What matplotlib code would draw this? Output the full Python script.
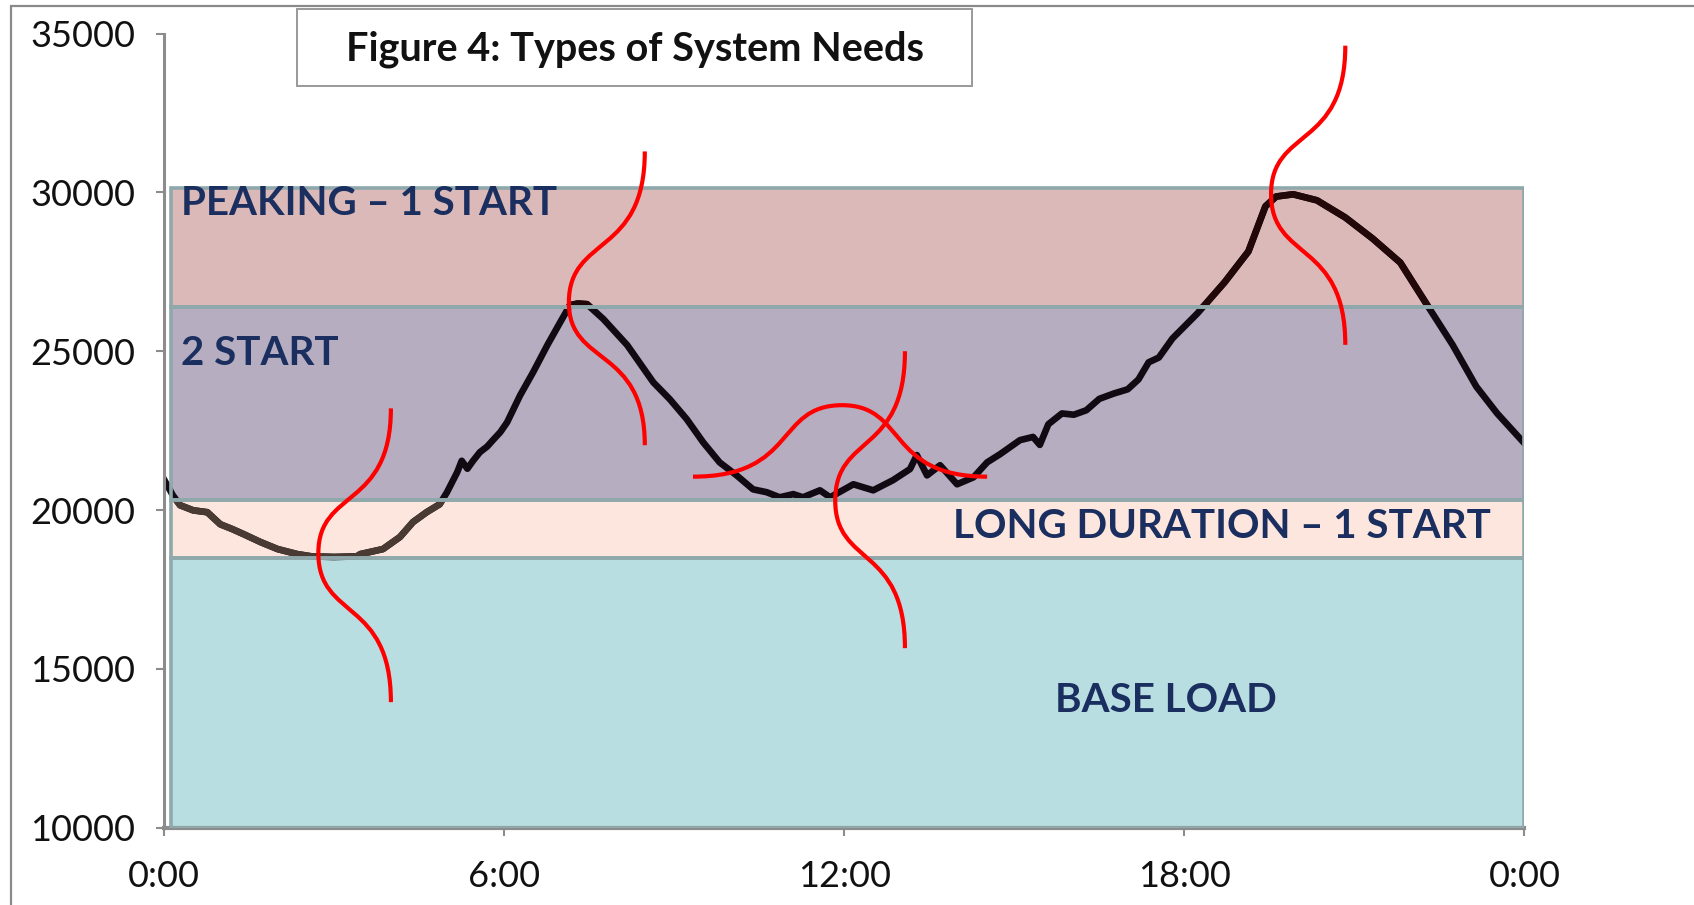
import matplotlib
matplotlib.use("Agg")
import matplotlib.pyplot as plt
from matplotlib.patches import Rectangle
from matplotlib.path import Path
from matplotlib.patches import PathPatch

plt.rcParams['font.family'] = ['Lato', 'DejaVu Sans']

# load curve over the day (hours, MW)
load_hours = [0.00, 0.15, 0.28, 0.51, 0.76, 0.99, 1.20, 1.40, 1.70, 2.00, 2.35, 2.60,
              3.00, 3.40, 3.46, 3.86, 4.16, 4.39, 4.63, 4.86, 4.99, 5.17, 5.25, 5.35,
              5.45, 5.57, 5.70, 5.80, 5.93, 6.05, 6.28, 6.51, 6.76, 6.99, 7.16, 7.30,
              7.46, 7.75, 8.17, 8.63, 8.92, 9.22, 9.51, 9.80, 10.10, 10.39, 10.63, 10.86,
              11.10, 11.27, 11.57, 11.75, 12.16, 12.51, 12.86, 13.16, 13.28, 13.46, 13.69,
              13.99, 14.28, 14.52, 14.75, 15.10, 15.33, 15.45, 15.60, 15.84, 16.05, 16.27,
              16.50, 16.76, 17.00, 17.19, 17.37, 17.55, 17.79, 18.23, 18.71, 19.13, 19.43,
              19.62, 19.92, 20.34, 20.84, 21.32, 21.81, 22.30, 22.73, 23.15, 23.52, 24.00]
load_mw = [20950, 20470, 20150, 19990, 19930, 19550, 19400, 19240, 18990, 18770, 18610, 18540,
           18520, 18540, 18610, 18770, 19150, 19620, 19930, 20180, 20560, 21190, 21550, 21300,
           21550, 21820, 22000, 22200, 22450, 22760, 23610, 24340, 25190, 25920, 26450, 26500,
           26480, 26010, 25190, 24020, 23490, 22860, 22130, 21500, 21090, 20650, 20560, 20400,
           20500, 20400, 20620, 20400, 20810, 20620, 20940, 21290, 21730, 21090, 21410,
           20810, 21030, 21500, 21760, 22200, 22300, 22050, 22700, 23040, 23000, 23140,
           23500, 23670, 23800, 24110, 24650, 24800, 25400, 26190, 27170, 28140, 29560,
           29870, 29940, 29750, 29210, 28550, 27790, 26410, 25210, 23890, 23040, 22100]

# bands of system need (bottom, top) in MW
band_names = ['BASE LOAD', 'LONG DURATION \u2013 1 START', '2 START', 'PEAKING \u2013 1 START']
band_bottom = [10000, 18500, 20300, 26400]
band_top = [18500, 20300, 26400, 30150]
band_colors = ['#b9dee2', '#fde6de', '#b7adc0', '#dbb9b8']
band_start = 0.12

# red uncertainty curves: cubic bezier control points (hours, MW)
red_curves = [
    [(4.0, 23200), (4.0, 20010), (2.72, 20690), (2.72, 18640),
     (2.72, 16530), (4.0, 17230), (4.0, 13950)],
    [(8.48, 31290), (8.48, 27960), (7.14, 28670), (7.14, 26530),
     (7.14, 24510), (8.48, 25180), (8.48, 22040)],
    [(9.33, 21050), (11.17, 21050), (10.78, 23300), (11.96, 23300),
     (13.11, 23300), (12.73, 21050), (14.52, 21050)],
    [(13.07, 25000), (13.07, 21710), (11.84, 22415), (11.84, 20300),
     (11.84, 18210), (13.07, 18900), (13.07, 15650)],
    [(20.84, 34620), (20.84, 31350), (19.53, 32050), (19.53, 29950),
     (19.53, 27810), (20.84, 28520), (20.84, 25200)],
]

x_ticks = [0, 6, 12, 18, 24]
x_labels = ['0:00', '6:00', '12:00', '18:00', '0:00']
y_ticks = [10000, 15000, 20000, 25000, 30000, 35000]

W, H = 1694, 905
fig = plt.figure(figsize=(W / 100, H / 100), dpi=100)
ax = fig.add_axes([164.2 / W, 1 - 827.6 / H, (1524.4 - 164.2) / W, (827.6 - 33.6) / H])
ax.set_xlim(0, 24)
ax.set_ylim(10000, 35000)

# band fills
heights = [t - b for b, t in zip(band_bottom, band_top)]
fills = ax.barh(band_bottom, [24 - band_start] * 4, height=heights, left=band_start,
                align='edge', color=band_colors, linewidth=0, zorder=1)
ax.barh(band_bottom, [24 - band_start] * 4, height=heights, left=band_start,
        align='edge', fill=False, edgecolor='#8fa8ab', linewidth=2.6, zorder=3)

# load line, tinted by the band it sits in
lw = 4.8
ax.plot(load_hours, load_mw, color='#120a12', lw=lw, solid_joinstyle='round', zorder=2)
brown, = ax.plot(load_hours, load_mw, color='#4a3a34', lw=lw, solid_joinstyle='round', zorder=2.1)
brown.set_clip_path(fills[1])
darkred, = ax.plot(load_hours, load_mw, color='#220808', lw=lw, solid_joinstyle='round', zorder=2.1)
darkred.set_clip_path(fills[3])

# red curves
for pts in red_curves:
    codes = [Path.MOVETO] + [Path.CURVE4] * (len(pts) - 1)
    ax.add_patch(PathPatch(Path(pts, codes), fill=False, edgecolor='red', lw=3.0, zorder=4))

# band labels
lab_kw = dict(color='#1a2f5f', fontsize=29, fontweight='bold', zorder=5)
ax.text(0.3, 29660, band_names[3], ha='left', va='center', **lab_kw)
ax.text(0.3, 24930, band_names[2], ha='left', va='center', **lab_kw)
ax.text(23.41, 19490, band_names[1], ha='right', va='center', **lab_kw)
ax.text(17.68, 14010, band_names[0], ha='center', va='center', **lab_kw)

# axes styling
for s in ['top', 'right']:
    ax.spines[s].set_visible(False)
ax.spines['left'].set_color('#8c8c8c')
ax.spines['left'].set_linewidth(2.2)
ax.spines['bottom'].set_color('#8c8c8c')
ax.spines['bottom'].set_linewidth(3)
ax.spines['left'].set_zorder(6)
ax.set_xticks(x_ticks)
ax.set_xticklabels(x_labels)
ax.set_yticks(y_ticks)
ax.tick_params(axis='both', direction='out', length=6, width=1.5, color='#8c8c8c',
               labelsize=26, labelcolor='#111111')
ax.tick_params(axis='y', pad=15)
ax.tick_params(axis='x', pad=17)
ax.set_facecolor('white')

# chart frame and title box
fig.add_artist(Rectangle((11 / W, -0.2), 1.2, 1.2 - 6 / H, transform=fig.transFigure,
                         fill=False, edgecolor='#8a8a8a', lw=1.6))
fig.add_artist(Rectangle((297 / W, 1 - 86 / H), (972 - 297) / W, (86 - 9) / H,
                         transform=fig.transFigure, facecolor='white',
                         edgecolor='#999999', lw=1.4))
fig.text(635 / W, 1 - 49 / H, 'Figure 4: Types of System Needs', ha='center', va='center',
         fontsize=28.5, fontweight='bold', color='#111111')

fig.savefig('out.png', dpi=100)
